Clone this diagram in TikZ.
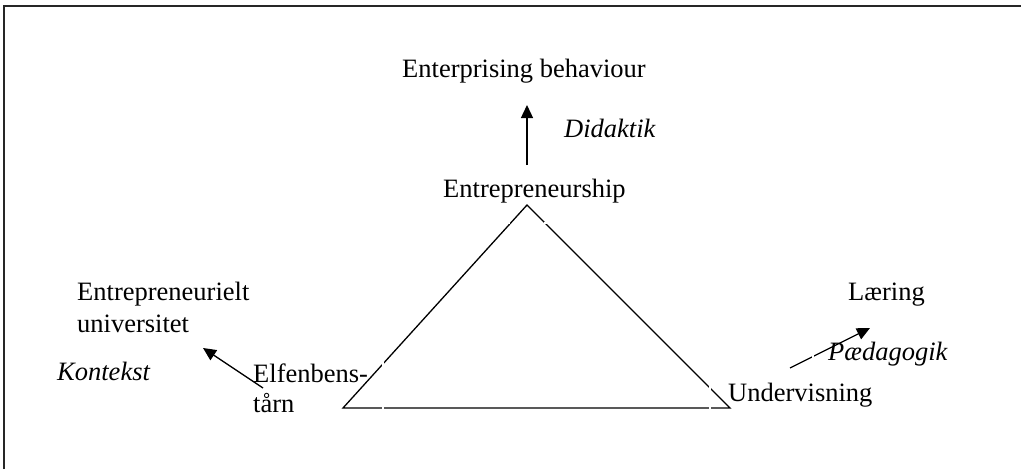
\documentclass[tikz,border=0pt]{standalone}
\usepackage{fontspec}
\setmainfont{Liberation Serif}
\usetikzlibrary{arrows.meta}
\begin{document}
\begin{tikzpicture}[x=1pt,y=-1pt,
  lbl/.style={anchor=base west,inner sep=0pt,font=\fontsize{26.5}{32}\selectfont},
  ilbl/.style={lbl,font=\fontsize{26.5}{32}\selectfont\itshape},
  edge/.style={line width=1.3pt},
  arr/.style={line width=1.3pt,-{Triangle[length=13pt,width=12pt]}},
  boxedge/.style={white,line width=2pt},
  frame/.style={line width=1.2pt,black!85}]
\useasboundingbox (0,0) rectangle (1021,469);
\draw[frame] (4,469) -- (4,6) -- (1021,6);
% labels
\node[lbl] (eb) at (402,77) {Enterprising behaviour};
\node[ilbl] (did) at (564,137) {Didaktik};
\node[lbl] (ent) at (443,197) {Entrepreneurship};
\node[lbl] (eu1) at (77,300) {Entrepreneurielt};
\node[lbl] (eu2) at (77,332) {universitet};
\node[ilbl] (kon) at (57,380) {Kontekst};
\node[lbl] (elf1) at (253,382) {Elfenbens-};
\node[lbl] (elf2) at (253,412) {tårn};
\node[lbl] (lae) at (848,300) {Læring};
\node[ilbl] (paed) at (828,360) {Pædagogik};
\node[lbl] (und) at (728,401) {Undervisning};
% triangle
\coordinate (top) at (527,205);
\coordinate (bl) at (343,408);
\coordinate (br) at (730,408);
\draw[edge,line join=miter] (top) -- (bl) -- (br) -- cycle;
% arrows
\coordinate (a1s) at (527,165);
\coordinate (a1e) at (527,105);
\draw[arr] (a1s) -- (a1e);
\coordinate (a2s) at (263,388);
\coordinate (a2e) at (203,348);
\draw[arr] (a2s) -- (a2e);
\coordinate (a3s) at (790,368);
\coordinate (a3e) at (870,328);
\draw[arr] (a3s) -- (a3e);
% white edges of the text boxes that cut the lines
\draw[boxedge] (507,223) -- (510,223);
\draw[boxedge] (544,223) -- (548,223);
\draw[boxedge] (383,358) -- (383,366);
\draw[boxedge] (383,405) -- (383,411);
\draw[boxedge] (710,384) -- (710,392);
\draw[boxedge] (710,405) -- (710,411);
\draw[boxedge] (813,352) -- (813,360);
\end{tikzpicture}
\end{document}
